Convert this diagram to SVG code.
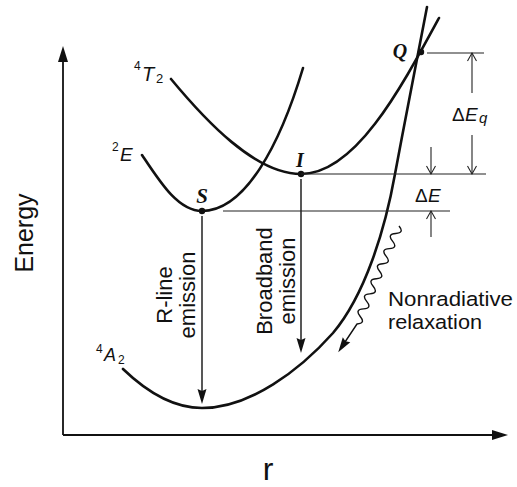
<svg xmlns="http://www.w3.org/2000/svg" width="517" height="487" viewBox="0 0 517 487">
<defs>
<style>
.curve{fill:none;stroke:#111;stroke-width:2.6;stroke-linecap:round;stroke-linejoin:round}
.axis{fill:none;stroke:#111;stroke-width:1.8}
.thin{fill:none;stroke:#222;stroke-width:1.1}
.em{fill:none;stroke:#111;stroke-width:1.4}
.wavy{fill:none;stroke:#111;stroke-width:1.4;stroke-linejoin:round}
.sans{font-family:"Liberation Sans",Arial,sans-serif;fill:#111}
.it{font-style:italic}
.pt{font-family:"Liberation Serif","Times New Roman",serif;font-style:italic;font-weight:bold;fill:#111;text-anchor:middle}
.dot{fill:#111}
</style>
<marker id="axh" markerUnits="userSpaceOnUse" markerWidth="18" markerHeight="12" viewBox="-11 -6 18 12" refX="0" refY="0" orient="auto">
<path d="M6,0 L-10,-5 L-10,5 z" fill="#111"/>
</marker>
<marker id="fh" markerUnits="userSpaceOnUse" markerWidth="18" markerHeight="12" viewBox="-11 -6 18 12" refX="0" refY="0" orient="auto">
<path d="M5,0 L-10,-4.5 L-8,0 L-10,4.5 z" fill="#111"/>
</marker>
<marker id="oh" markerUnits="userSpaceOnUse" markerWidth="12" markerHeight="12" viewBox="-10 -6 12 12" refX="0" refY="0" orient="auto">
<path d="M-8,-4.5 L0,0 L-8,4.5" fill="none" stroke="#222" stroke-width="1.1"/>
</marker>
</defs>
<rect width="517" height="487" fill="#fff"/>

<g id="axes">
<path class="axis" d="M63,435 L63,52" marker-end="url(#axh)"/>
<path class="axis" d="M63,435 L502,435" marker-end="url(#axh)"/>
<text class="sans" font-size="25" text-anchor="middle" transform="translate(33,233) rotate(-90)">Energy</text>
<text class="sans" font-size="32" x="268" y="480" text-anchor="middle">r</text>
</g>

<g id="curve-4A2">
<path class="curve" d="M123,369 C150,395 175,408 202,408 C250,408 300,370 333,333 C365,295 385,230 395,174 C405,120 415,70 427,7"/>
<text class="sans" x="96" y="353" font-size="12">4</text>
<text class="sans it" x="104" y="361" font-size="18">A</text>
<text class="sans" x="118" y="364" font-size="12">2</text>
</g>

<g id="curve-2E">
<path class="curve" d="M142,155 C160,182 178,211 202,211 C245,211 280,145 303,68"/>
<text class="sans" x="112" y="151" font-size="12">2</text>
<text class="sans it" x="120" y="161" font-size="19">E</text>
</g>

<g id="curve-4T2">
<path class="curve" d="M171,79 C205,120 255,174 301,174 C355,174 400,90 439,18"/>
<text class="sans" x="134" y="70" font-size="12">4</text>
<text class="sans it" x="142" y="81" font-size="20">T</text>
<text class="sans" x="156" y="83" font-size="13">2</text>
</g>

<g id="point-S">
<circle class="dot" cx="202" cy="211" r="3.2"/>
<text class="pt" x="202" y="203" font-size="21">S</text>
</g>
<g id="point-I">
<circle class="dot" cx="301" cy="174" r="3.2"/>
<text class="pt" x="300" y="167" font-size="20">I</text>
</g>
<g id="point-Q">
<circle class="dot" cx="421" cy="52" r="3.2"/>
<text class="pt" x="400" y="58" font-size="20">Q</text>
</g>

<g id="connectors">
<path class="em" d="M202,216 L202,399" marker-end="url(#fh)"/>
<path class="em" d="M301,179 L301,348" marker-end="url(#fh)"/>
<path class="wavy" d="M399,226 Q404.73,232.92 395.77,233.54 T392.54,241.08 T389.31,248.61 T386.08,256.15 T382.85,263.69 T379.61,271.23 T376.38,278.77 T373.15,286.30 T369.92,293.84 T366.69,301.38 T363.46,308.92 T360.23,316.46 T357.00,324.00 L341,348" marker-end="url(#fh)"/>
<path class="thin" d="M427,53 L484,53 M301,174 L486,174 M223,211 L450,211"/>
<path class="thin" d="M472,93 L472,53" marker-end="url(#oh)"/>
<path class="thin" d="M472,135 L472,174" marker-end="url(#oh)"/>
<path class="thin" d="M431,147 L431,174" marker-end="url(#oh)"/>
<path class="thin" d="M431,237 L431,211" marker-end="url(#oh)"/>
</g>

<g id="label-dEq">
<text class="sans" y="121" font-size="19"><tspan x="452">Δ</tspan><tspan class="it" x="465">E</tspan><tspan class="it" x="479" dy="2" font-size="15">q</tspan></text>
</g>
<g id="label-dE">
<text class="sans" y="202" font-size="19"><tspan x="415">Δ</tspan><tspan class="it" x="428">E</tspan></text>
</g>
<g id="label-rline">
<text class="sans" font-size="22" text-anchor="middle" transform="translate(172,295) rotate(-90)"><tspan x="0" y="0">R-line</tspan><tspan x="0" y="23">emission</tspan></text>
</g>
<g id="label-broadband">
<text class="sans" font-size="22" text-anchor="middle" transform="translate(272,281) rotate(-90)"><tspan x="0" y="0">Broadband</tspan><tspan x="0" y="23">emission</tspan></text>
</g>
<g id="label-nonrad">
<text class="sans" font-size="20.5" x="388" y="306" textLength="125" lengthAdjust="spacingAndGlyphs">Nonradiative</text>
<text class="sans" font-size="20.5" x="388" y="329" textLength="94" lengthAdjust="spacingAndGlyphs">relaxation</text>
</g>
</svg>
